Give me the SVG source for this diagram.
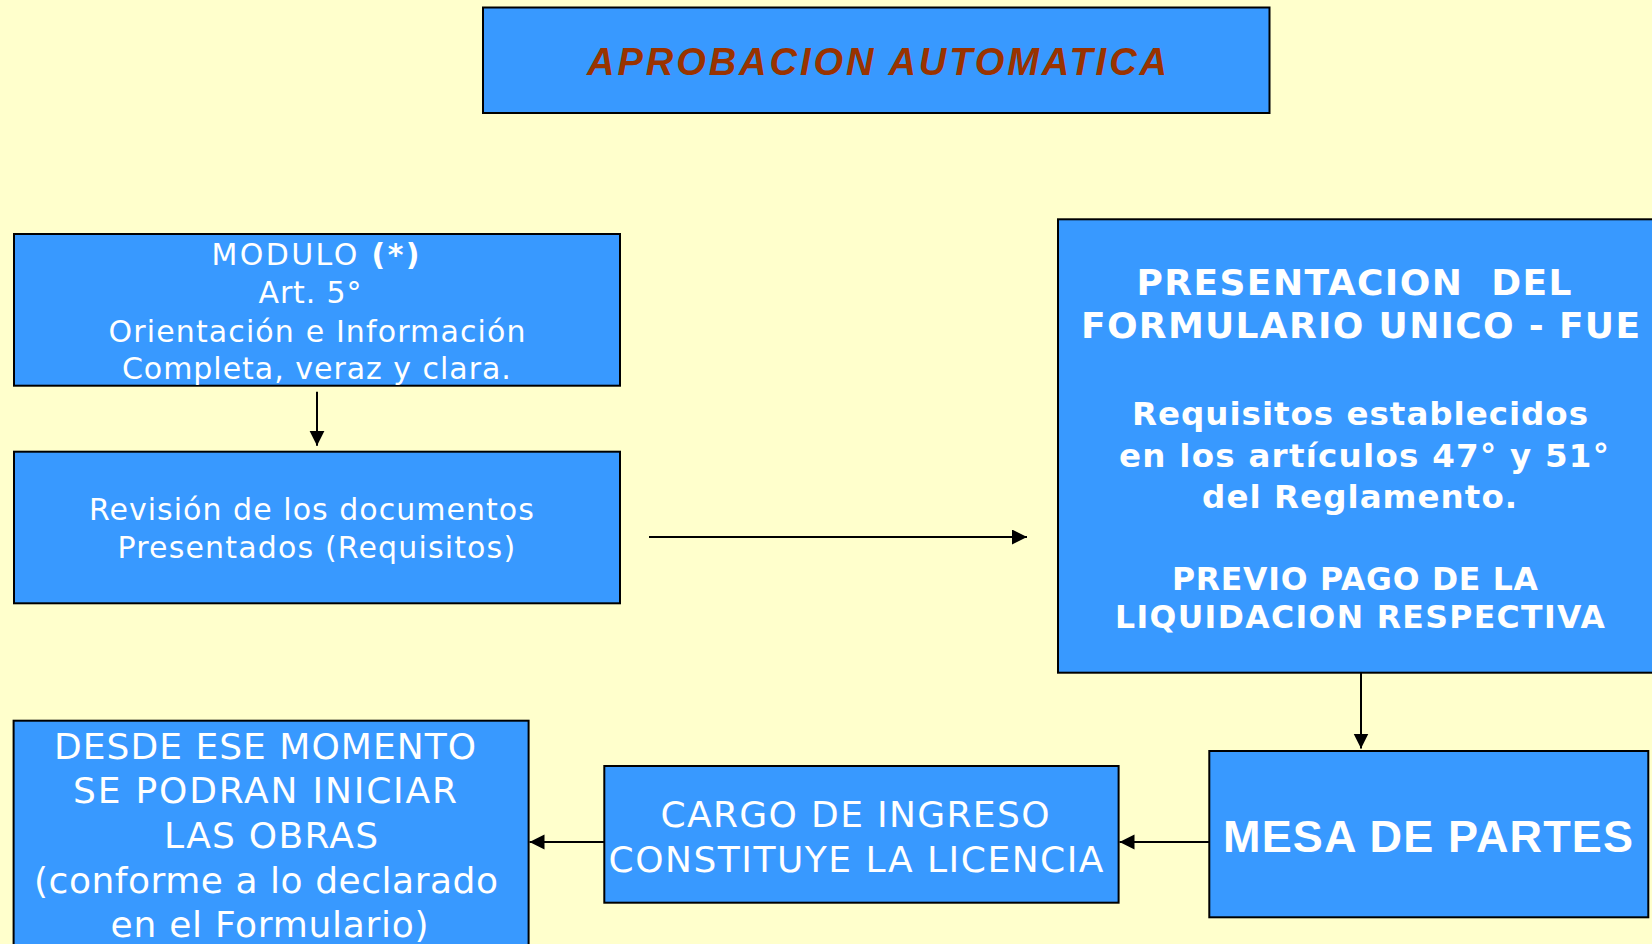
<svg xmlns="http://www.w3.org/2000/svg" width="1652" height="944" viewBox="0 0 1652 944">
<style>
.box{fill:#3899FF;stroke:#000;stroke-width:2}
.t{font-family:"DejaVu Sans","Noto Sans",sans-serif;fill:#fff;text-anchor:middle}
.b{font-weight:bold}
.conn{stroke:#000;stroke-width:2;fill:none}
</style>
<defs>
<marker id="arr" markerUnits="userSpaceOnUse" markerWidth="16" markerHeight="16" refX="15" refY="7.5" orient="auto">
<path d="M0,0 L15,7.5 L0,15 z" fill="#000"/>
</marker>
</defs>
<rect x="0" y="0" width="1652" height="944" fill="#FFFFCC"/>

<g id="title">
<rect class="box" x="483" y="7.5" width="786.5" height="105.5"/>
<text x="877" y="75" font-family="'Liberation Sans',Arial,sans-serif" font-weight="bold" font-style="italic" font-size="38" fill="#993300" text-anchor="middle" textLength="580" lengthAdjust="spacing">APROBACION AUTOMATICA</text>
</g>

<g id="modulo">
<rect class="box" x="14" y="234" width="606" height="151.7"/>
<text class="t" font-size="30" x="315.5" y="265" textLength="208" lengthAdjust="spacing">MODULO <tspan class="b">(*)</tspan></text>
<text class="t" font-size="30" x="310" y="303" textLength="103" lengthAdjust="spacing">Art. 5°</text>
<text class="t" font-size="30" x="317" y="341.7" textLength="417" lengthAdjust="spacing">Orientación e Información</text>
<text class="t" font-size="30" x="316.4" y="379.3" textLength="389" lengthAdjust="spacing">Completa, veraz y clara.</text>
</g>

<g id="revision">
<rect class="box" x="14" y="451.7" width="606" height="151.6"/>
<text class="t" font-size="30" x="311.4" y="520" textLength="445" lengthAdjust="spacing">Revisión de los documentos</text>
<text class="t" font-size="30" x="316.3" y="558" textLength="397.6" lengthAdjust="spacing">Presentados (Requisitos)</text>
</g>

<g id="presentacion">
<rect class="box" x="1058" y="219.3" width="610" height="453.4"/>
<text class="t b" font-size="36" x="1354" y="295" textLength="435" lengthAdjust="spacing">PRESENTACION&#160; DEL</text>
<text class="t b" font-size="36" x="1360.5" y="338.3" textLength="559" lengthAdjust="spacing">FORMULARIO UNICO - FUE</text>
<text class="t b" font-size="32.5" x="1360" y="425" textLength="456" lengthAdjust="spacing">Requisitos establecidos</text>
<text class="t b" font-size="32.5" x="1364" y="467.3" textLength="490" lengthAdjust="spacing">en los artículos 47° y 51°</text>
<text class="t b" font-size="32.5" x="1359.6" y="508.3" textLength="315" lengthAdjust="spacing">del Reglamento.</text>
<text class="t b" font-size="31.5" x="1355" y="590" textLength="366" lengthAdjust="spacing">PREVIO PAGO DE LA</text>
<text class="t b" font-size="31.5" x="1360" y="627.7" textLength="490" lengthAdjust="spacing">LIQUIDACION RESPECTIVA</text>
</g>

<g id="mesa">
<rect class="box" x="1209.3" y="751" width="439" height="166.3"/>
<text x="1428" y="851.7" font-family="'Liberation Sans',Arial,sans-serif" font-weight="bold" font-size="45" fill="#fff" text-anchor="middle" textLength="410" lengthAdjust="spacing">MESA DE PARTES</text>
</g>

<g id="cargo">
<rect class="box" x="604.3" y="766" width="514.3" height="136.7"/>
<text class="t" font-size="36" x="855" y="827.3" textLength="389" lengthAdjust="spacing">CARGO DE INGRESO</text>
<text class="t" font-size="36" x="856" y="871.7" textLength="495" lengthAdjust="spacing">CONSTITUYE LA LICENCIA</text>
</g>

<g id="desde">
<rect class="box" x="13.6" y="720.7" width="515" height="240"/>
<text class="t" font-size="36" x="265" y="759.3" textLength="422" lengthAdjust="spacing">DESDE ESE MOMENTO</text>
<text class="t" font-size="36" x="265" y="803.3" textLength="384" lengthAdjust="spacing">SE PODRAN INICIAR</text>
<text class="t" font-size="36" x="271" y="848.3" textLength="214" lengthAdjust="spacing">LAS OBRAS</text>
<text class="t" font-size="36" x="266" y="893.3" textLength="464" lengthAdjust="spacing">(conforme a lo declarado</text>
<text class="t" font-size="36" x="269.6" y="937.3" textLength="318" lengthAdjust="spacing">en el Formulario)</text>
</g>

<g id="connectors">
<line class="conn" x1="317" y1="391.7" x2="317" y2="445.7" marker-end="url(#arr)"/>
<line class="conn" x1="649" y1="537" x2="1027" y2="537" marker-end="url(#arr)"/>
<line class="conn" x1="1361" y1="673" x2="1361" y2="748.5" marker-end="url(#arr)"/>
<line class="conn" x1="1209" y1="842" x2="1119.5" y2="842" marker-end="url(#arr)"/>
<line class="conn" x1="604" y1="842" x2="529.5" y2="842" marker-end="url(#arr)"/>
</g>
</svg>
